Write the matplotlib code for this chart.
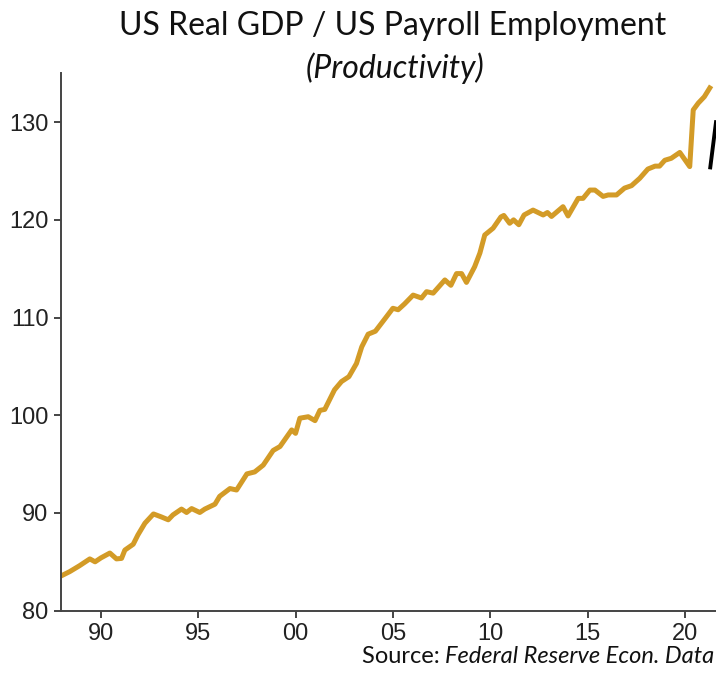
import matplotlib.pyplot as plt
from matplotlib.lines import Line2D

# productivity index (real GDP / payroll employment)
years = [1988.0, 1988.4, 1988.9, 1989.43, 1989.7, 1990.0, 1990.46, 1990.8, 1991.06, 1991.23,
         1991.66, 1991.9, 1992.26, 1992.7, 1993.1, 1993.46, 1993.7, 1994.14, 1994.4, 1994.66,
         1995.08, 1995.34, 1995.86, 1996.1, 1996.63, 1996.97, 1997.5, 1997.9, 1998.34, 1998.85,
         1999.2, 1999.8, 2000.0, 2000.22, 2000.65, 2001.0, 2001.25, 2001.5, 2002.0, 2002.36,
         2002.74, 2003.13, 2003.4, 2003.73, 2004.1, 2004.6, 2005.0, 2005.27, 2005.6, 2006.04,
         2006.47, 2006.73, 2007.07, 2007.67, 2007.98, 2008.27, 2008.53, 2008.78, 2009.2, 2009.47,
         2009.72, 2010.15, 2010.55, 2010.7, 2011.0, 2011.2, 2011.47, 2011.74, 2012.2, 2012.72,
         2012.94, 2013.15, 2013.74, 2014.0, 2014.52, 2014.77, 2015.12, 2015.38, 2015.8, 2016.06,
         2016.49, 2016.9, 2017.26, 2017.68, 2018.1, 2018.47, 2018.7, 2018.97, 2019.3, 2019.74,
         2020.25, 2020.43, 2020.69, 2021.0, 2021.28]
productivity = [83.6, 84.0, 84.6, 85.3, 85.0, 85.4, 85.9, 85.3, 85.35, 86.2,
                86.8, 87.75, 88.95, 89.9, 89.6, 89.3, 89.8, 90.4, 90.05, 90.45,
                90.05, 90.4, 90.9, 91.7, 92.5, 92.35, 94.0, 94.2, 94.9, 96.4,
                96.8, 98.5, 98.15, 99.7, 99.85, 99.45, 100.5, 100.6, 102.6, 103.45,
                103.95, 105.3, 107.0, 108.3, 108.6, 109.9, 110.95, 110.8, 111.4, 112.3,
                112.0, 112.65, 112.5, 113.85, 113.3, 114.5, 114.5, 113.6, 115.2, 116.6,
                118.45, 119.15, 120.3, 120.45, 119.65, 120.0, 119.5, 120.5, 121.0, 120.5,
                120.75, 120.35, 121.35, 120.4, 122.2, 122.2, 123.05, 123.05, 122.4, 122.55,
                122.55, 123.25, 123.5, 124.25, 125.2, 125.5, 125.5, 126.1, 126.3, 126.9,
                125.45, 131.25, 131.95, 132.6, 133.5]

xtick_years = [1990, 1995, 2000, 2005, 2010, 2015, 2020]
xtick_labels = ['90', '95', '00', '05', '10', '15', '20']
ytick_values = [80, 90, 100, 110, 120, 130]

fig = plt.figure(figsize=(7.16, 6.75), dpi=100)
ax = fig.add_axes([0.0852, 0.0953, 0.9148, 0.7961])

ax.plot(years, productivity, color='#D39B27', lw=3.6, solid_joinstyle='round')

ax.set_xlim(1987.95, 2021.6)
ax.set_ylim(80, 135)
ax.set_xticks(xtick_years)
ax.set_xticklabels(xtick_labels)
ax.set_yticks(ytick_values)

for side in ['top', 'right']:
    ax.spines[side].set_visible(False)
for side in ['left', 'bottom']:
    ax.spines[side].set_color('#444444')
    ax.spines[side].set_linewidth(1.4)

ax.tick_params(axis='both', colors='#444444', width=1.4, length=5,
               labelsize=17, labelcolor='#222222', pad=4)
for lab in ax.get_xticklabels() + ax.get_yticklabels():
    lab.set_family('Liberation Sans')

fig.text(0.548, 0.962, 'US Real GDP / US Payroll Employment', ha='center', va='center',
         fontsize=23, family='Lato', color='#111111')
fig.text(0.552, 0.899, '(Productivity)', ha='center', va='center',
         fontsize=23, family='Lato', style='italic', color='#111111')

# source note
src = fig.text(0.998, 0.012, 'Federal Reserve Econ. Data', ha='right', va='bottom',
               fontsize=17, family='Lato', style='italic', color='#111111')
fig.canvas.draw()
bb = src.get_window_extent()
fig.text(bb.x0 / fig.bbox.width, 0.012, 'Source: ', ha='right', va='bottom',
         fontsize=17, family='Lato', color='#111111')

# cut-off annotation stroke at the right edge
fig.add_artist(Line2D([1.0, 0.992], [0.819, 0.752], color='black', lw=2.8))

fig.savefig('out.png', dpi=100)
